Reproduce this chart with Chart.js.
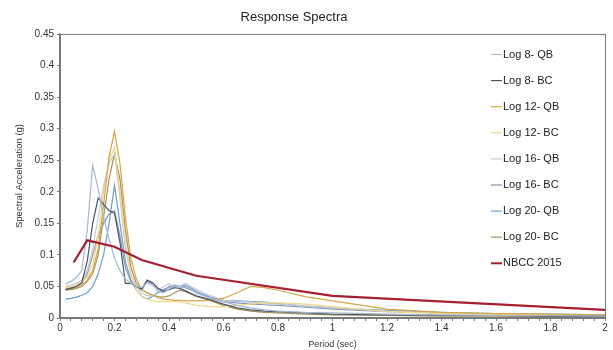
<!DOCTYPE html>
<html>
<head>
<meta charset="utf-8">
<style>
html,body{margin:0;padding:0;background:#fff;}
#wrap{position:relative;width:613px;height:350px;}
</style>
<script src="https://cdn.jsdelivr.net/npm/chart.js@4.4.1/dist/chart.umd.min.js"></script>
</head>
<body>
<div id="wrap"><canvas id="c" width="613" height="350"></canvas></div>
<script>
const periods = [0.02,0.04,0.06,0.08,0.10,0.12,0.14,0.16,0.18,0.20,0.22,0.24,0.26,0.28,0.30,0.32,0.34,0.36,0.38,0.40,0.42,0.44,0.46,0.48,0.50,0.55,0.60,0.65,0.70,0.75,0.80,0.90,1.0,1.2,1.4,1.6,1.8,2.0];

const log8QB  = [0.054,0.058,0.064,0.075,0.14,0.242,0.205,0.16,0.125,0.095,0.075,0.062,0.055,0.05,0.048,0.056,0.052,0.042,0.04,0.046,0.05,0.048,0.05,0.046,0.04,0.032,0.026,0.02,0.016,0.013,0.011,0.009,0.008,0.006,0.005,0.004,0.004,0.003];
const log8BC  = [0.045,0.047,0.05,0.056,0.09,0.15,0.19,0.18,0.17,0.166,0.12,0.055,0.055,0.05,0.046,0.06,0.056,0.047,0.042,0.045,0.048,0.047,0.043,0.039,0.035,0.029,0.022,0.016,0.013,0.011,0.01,0.008,0.006,0.005,0.004,0.004,0.003,0.003];
const log12QB = [0.045,0.046,0.048,0.052,0.06,0.075,0.11,0.18,0.255,0.296,0.245,0.16,0.095,0.062,0.045,0.04,0.036,0.032,0.03,0.029,0.028,0.028,0.027,0.027,0.027,0.028,0.031,0.04,0.05,0.048,0.044,0.034,0.027,0.014,0.009,0.007,0.006,0.005];
const log12BC = [0.048,0.05,0.053,0.057,0.065,0.085,0.13,0.2,0.25,0.27,0.2,0.12,0.07,0.045,0.035,0.03,0.027,0.026,0.026,0.026,0.026,0.025,0.024,0.022,0.02,0.018,0.018,0.02,0.022,0.024,0.024,0.022,0.018,0.01,0.007,0.006,0.005,0.004];
const log16QB = [0.05,0.052,0.055,0.06,0.075,0.11,0.16,0.21,0.245,0.26,0.19,0.11,0.07,0.05,0.04,0.035,0.035,0.042,0.05,0.054,0.05,0.05,0.055,0.05,0.045,0.036,0.028,0.026,0.025,0.024,0.022,0.019,0.016,0.011,0.008,0.006,0.005,0.005];
const log16BC = [0.046,0.048,0.05,0.055,0.07,0.1,0.13,0.15,0.165,0.17,0.13,0.08,0.058,0.05,0.045,0.058,0.054,0.046,0.043,0.05,0.052,0.05,0.048,0.045,0.04,0.032,0.026,0.024,0.022,0.021,0.02,0.017,0.014,0.01,0.008,0.006,0.005,0.005];
const log20QB = [0.03,0.031,0.033,0.036,0.04,0.05,0.07,0.1,0.15,0.21,0.15,0.09,0.06,0.045,0.035,0.03,0.034,0.04,0.045,0.049,0.05,0.05,0.052,0.048,0.042,0.033,0.028,0.027,0.026,0.025,0.023,0.019,0.016,0.012,0.009,0.007,0.006,0.005];
const log20BC = [0.044,0.045,0.047,0.05,0.058,0.07,0.1,0.16,0.22,0.26,0.22,0.14,0.08,0.055,0.045,0.04,0.036,0.034,0.033,0.035,0.04,0.044,0.042,0.038,0.034,0.028,0.02,0.014,0.011,0.009,0.008,0.006,0.005,0.004,0.003,0.003,0.003,0.003];

const nbccPeriods = [0.05,0.1,0.2,0.3,0.5,1.0,2.0];
const nbcc2015    = [0.088,0.123,0.113,0.092,0.067,0.035,0.013];

const seriesLabels = ["Log 8- QB","Log 8- BC","Log 12- QB","Log 12- BC","Log 16- QB","Log 16- BC","Log 20- QB","Log 20- BC","NBCC 2015"];
const seriesValues = [log8QB,log8BC,log12QB,log12BC,log16QB,log16BC,log20QB,log20BC];
const seriesColors = ["#a3b9cf","#4d5466","#d6a646","#efd88a","#c3cbd8","#8897b2","#6d9cd4","#a8935c","#a51f30"];

const xTickValues = [0,0.2,0.4,0.6,0.8,1,1.2,1.4,1.6,1.8,2];
const yTickValues = [0,0.05,0.1,0.15,0.2,0.25,0.3,0.35,0.4,0.45];

const FONT = "'Liberation Sans', Arial, sans-serif";

const datasets = seriesValues.map((vals,i)=>({
  label: seriesLabels[i],
  data: periods.map((p,j)=>({x:p,y:vals[j]})),
  borderColor: seriesColors[i],
  backgroundColor: seriesColors[i],
  borderWidth: 1.2,
  pointRadius: 0,
  tension: 0,
  fill: false,
  order: i+1
}));
datasets.push({
  label: seriesLabels[8],
  data: nbccPeriods.map((p,j)=>({x:p,y:nbcc2015[j]})),
  borderColor: seriesColors[8],
  backgroundColor: seriesColors[8],
  borderWidth: 2.2,
  pointRadius: 0,
  tension: 0,
  fill: false,
  order: 0
});

const framePlugin = {
  id: 'frame',
  beforeDatasetsDraw(chart){
    const {ctx, chartArea:a} = chart;
    ctx.save();
    ctx.strokeStyle = '#7a7a7a';
    ctx.lineWidth = 1;
    ctx.strokeRect(a.left+0.5, a.top+0.5, a.right-a.left, a.bottom-a.top);
    ctx.restore();
  }
};

const titleLegendPlugin = {
  id: 'titleLegend',
  afterDraw(chart){
    const {ctx} = chart;
    ctx.save();
    ctx.fillStyle = '#222';
    ctx.font = "13px " + FONT;
    ctx.textAlign = 'center';
    ctx.textBaseline = 'middle';
    ctx.fillText("Response Spectra", 294, 17);
    ctx.font = "11px " + FONT;
    ctx.textAlign = 'left';
    chart.data.datasets.forEach((ds,i)=>{
      const y = 54 + i*26.1;
      ctx.strokeStyle = ds.borderColor;
      ctx.lineWidth = ds.order===0 ? 2 : 1.2;
      ctx.beginPath();
      ctx.moveTo(491, y+0.5);
      ctx.lineTo(502, y+0.5);
      ctx.stroke();
      ctx.fillStyle = '#222';
      ctx.fillText(ds.label, 503, y+0.5);
    });
    ctx.restore();
  }
};

const near = (v, arr) => arr.some(t => Math.abs(t - v) < 1e-6);

new Chart(document.getElementById('c'), {
  type: 'line',
  data: { datasets },
  plugins: [framePlugin, titleLegendPlugin],
  options: {
    responsive: false,
    animation: false,
    layout: { padding: { top: 34, right: 8, left: 0, bottom: 0 } },
    plugins: { legend: { display: false }, title: { display: false }, tooltip: { enabled: false } },
    scales: {
      x: {
        type: 'linear',
        min: 0, max: 2,
        afterFit(s){ s.height = 32; },
        ticks: {
          stepSize: 0.04,
          autoSkip: false,
          maxRotation: 0,
          padding: 1,
          color: '#333',
          font: { family: FONT, size: 10 },
          callback(v){ return near(v, xTickValues) ? String(Math.round(v*10)/10) : ''; }
        },
        grid: { display: true, drawOnChartArea: false, drawTicks: true, tickLength: 3, color: '#7a7a7a' },
        border: { display: true, color: '#7a7a7a', width: 1.5 },
        title: { display: true, text: 'Period (sec)', color: '#333', font: { family: FONT, size: 9 }, padding: { top: 2, bottom: 0 } }
      },
      y: {
        min: 0, max: 0.45,
        afterFit(s){ s.width = 60; },
        ticks: {
          stepSize: 0.05,
          autoSkip: false,
          padding: 3,
          color: '#333',
          font: { family: FONT, size: 10 },
          callback(v){ return near(v, yTickValues) ? String(Math.round(v*100)/100) : ''; }
        },
        grid: { display: true, drawOnChartArea: false, drawTicks: true, tickLength: 3, color: '#7a7a7a' },
        border: { display: true, color: '#7a7a7a', width: 1.5 },
        title: { display: true, text: 'Spectral Acceleration (g)', color: '#333', font: { family: FONT, size: 9.5 }, padding: { top: 14, bottom: 4 } }
      }
    }
  }
});
</script>
</body>
</html>
